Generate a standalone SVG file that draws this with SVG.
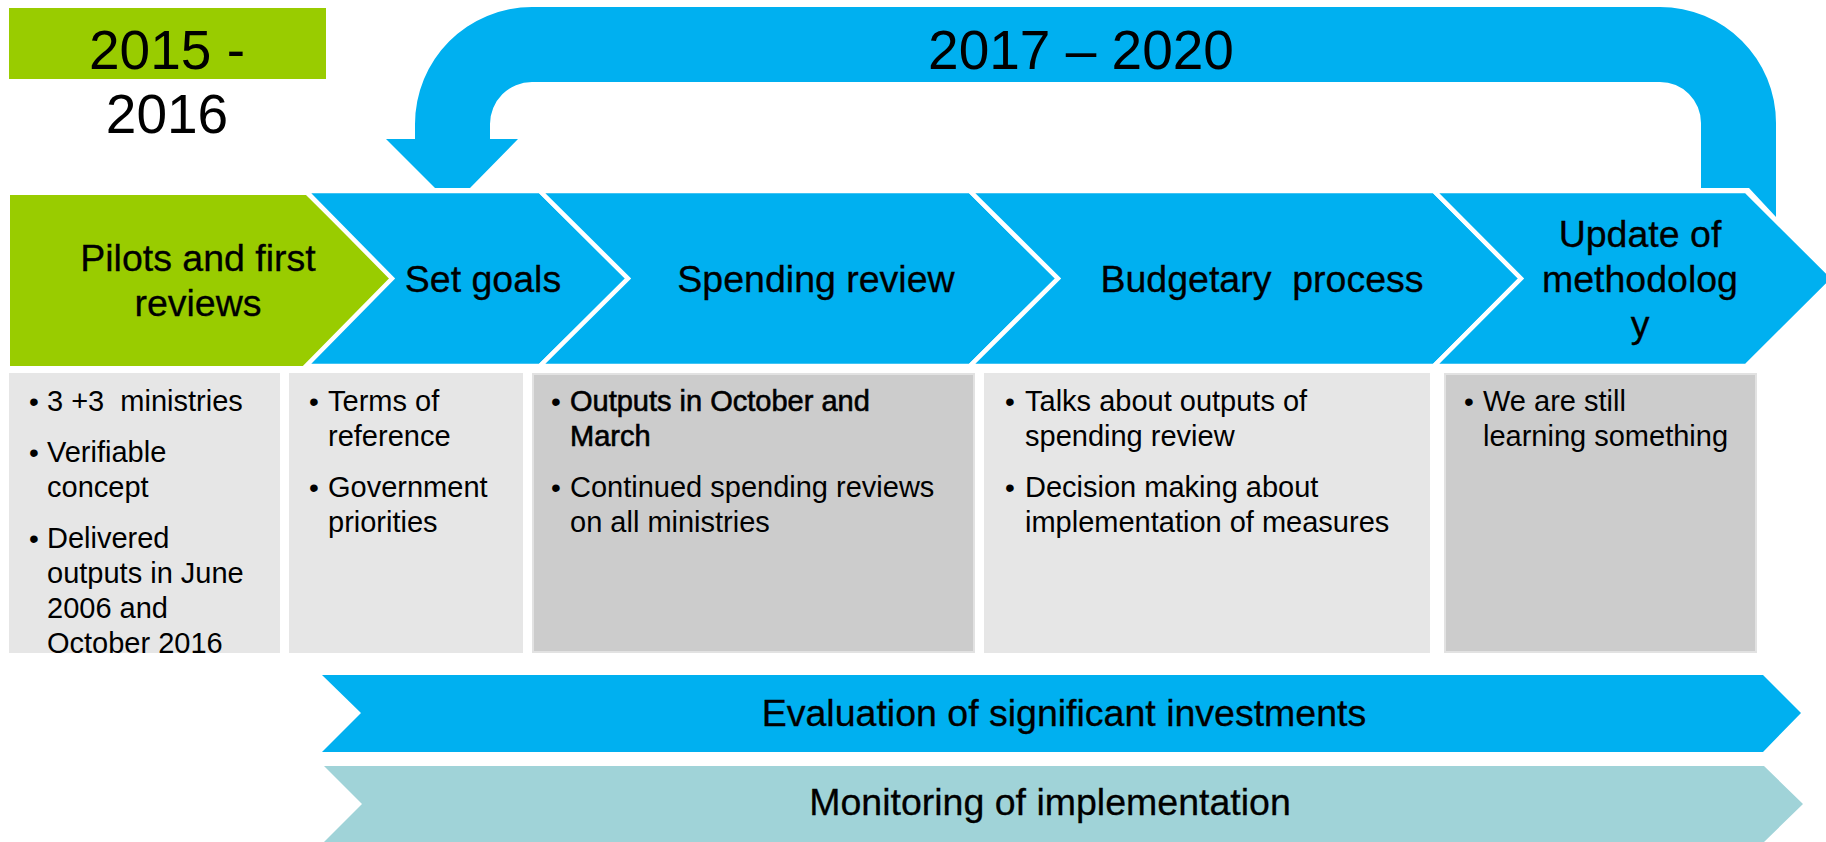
<svg xmlns="http://www.w3.org/2000/svg" width="1826" height="842" viewBox="0 0 1826 842">
<style>
text{font-family:"Liberation Sans",Arial,sans-serif;fill:#000}
.yr{font-size:55px;text-anchor:middle}
.hd{font-size:37.5px;text-anchor:middle;stroke:#000;stroke-width:0.3}
.bx{font-size:29px}
.bul{font-size:28px}
.blue{fill:#00B0F0}
.chev{fill:#00B0F0;stroke:#fff;stroke-width:4.5;stroke-linejoin:miter}
.lg{fill:#E6E6E6}
.dg{fill:#CCCCCC;stroke:#E2E2E2;stroke-width:2}
.bold{stroke:#000;stroke-width:0.6}
</style>
<defs>
<clipPath id="c1"><rect x="9" y="373" width="271" height="280"/></clipPath>
</defs>
<rect width="1826" height="842" fill="#fff"/>

<g id="period-2015">
<rect x="9" y="8" width="317" height="71" fill="#99CC00"/>
<text class="yr" x="167" y="69">2015 -</text>
<text class="yr" x="167" y="133">2016</text>
</g>

<g id="loop-arrow">
<path class="blue" d="M386,139 L415,139 L415,124 A117,117 0 0 1 532,7 L1660,7 A116,116 0 0 1 1776,123 L1776,217 L1749,188 L1701,188 L1701,123 A41,41 0 0 0 1660,82 L532,82 A42,42 0 0 0 490,124 L490,139 L518,139 L470,188 L435,188 Z"/>
<text class="yr" x="1081" y="69">2017 – 2020</text>
</g>

<g id="pilots">
<polygon points="10,195 306,195 392,280 306,366 10,366" fill="#99CC00"/>
<text class="hd" x="198" y="271">Pilots and first</text>
<text class="hd" x="198" y="316">reviews</text>
</g>
<g id="set-goals">
<polygon class="chev" points="306,191 540,191 628,278.5 540,366 306,366 392,278.5"/>
<text class="hd" x="483" y="292">Set goals</text>
</g>
<g id="spending-review">
<polygon class="chev" points="540,191 970,191 1058,278.5 970,366 540,366 628,278.5"/>
<text class="hd" x="816" y="292">Spending review</text>
</g>
<g id="budgetary-process">
<polygon class="chev" points="970,191 1434,191 1521,278.5 1434,366 970,366 1058,278.5"/>
<text class="hd" x="1262" y="292" xml:space="preserve">Budgetary  process</text>
</g>
<g id="update-methodology">
<polygon class="chev" points="1434,191 1746,191 1834,278.5 1746,366 1434,366 1521,278.5"/>
<text class="hd" x="1640" y="247">Update of</text>
<text class="hd" x="1640" y="292">methodolog</text>
<text class="hd" x="1640" y="337">y</text>
</g>

<g id="box-pilots">
<rect class="lg" x="9" y="373" width="271" height="280"/>
<g clip-path="url(#c1)">
<text class="bul" x="29" y="411">•</text><text class="bx" x="47" y="411" xml:space="preserve">3 +3  ministries</text>
<text class="bul" x="29" y="462">•</text><text class="bx" x="47" y="462">Verifiable</text>
<text class="bx" x="47" y="497">concept</text>
<text class="bul" x="29" y="548">•</text><text class="bx" x="47" y="548">Delivered</text>
<text class="bx" x="47" y="583">outputs in June</text>
<text class="bx" x="47" y="618">2006 and</text>
<text class="bx" x="47" y="653">October 2016</text>
</g>
</g>
<g id="box-set-goals">
<rect class="lg" x="289" y="373" width="234" height="280"/>
<text class="bul" x="309" y="411">•</text><text class="bx" x="328" y="411">Terms of</text>
<text class="bx" x="328" y="446">reference</text>
<text class="bul" x="309" y="497">•</text><text class="bx" x="328" y="497">Government</text>
<text class="bx" x="328" y="532">priorities</text>
</g>
<g id="box-spending-review">
<rect class="dg" x="533" y="374" width="441" height="278"/>
<text class="bul" x="551" y="411">•</text><text class="bx bold" x="570" y="411">Outputs in October and</text>
<text class="bx bold" x="570" y="446">March</text>
<text class="bul" x="551" y="497">•</text><text class="bx" x="570" y="497">Continued spending reviews</text>
<text class="bx" x="570" y="532">on all ministries</text>
</g>
<g id="box-budgetary">
<rect class="lg" x="984" y="373" width="446" height="280"/>
<text class="bul" x="1005" y="411">•</text><text class="bx" x="1025" y="411">Talks about outputs of</text>
<text class="bx" x="1025" y="446">spending review</text>
<text class="bul" x="1005" y="497">•</text><text class="bx" x="1025" y="497">Decision making about</text>
<text class="bx" x="1025" y="532">implementation of measures</text>
</g>
<g id="box-update">
<rect class="dg" x="1445" y="374" width="311" height="278"/>
<text class="bul" x="1464" y="411">•</text><text class="bx" x="1483" y="411">We are still</text>
<text class="bx" x="1483" y="446">learning something</text>
</g>

<g id="evaluation-bar">
<polygon class="blue" points="322,675 1763,675 1801,713 1763,752 322,752 361,713"/>
<text class="hd" x="1064" y="726">Evaluation of significant investments</text>
</g>
<g id="monitoring-bar">
<polygon points="324,766 1764,766 1803,804 1764,842 324,842 362,804" fill="#A0D3D8"/>
<text class="hd" x="1050" y="815">Monitoring of implementation</text>
</g>
</svg>
